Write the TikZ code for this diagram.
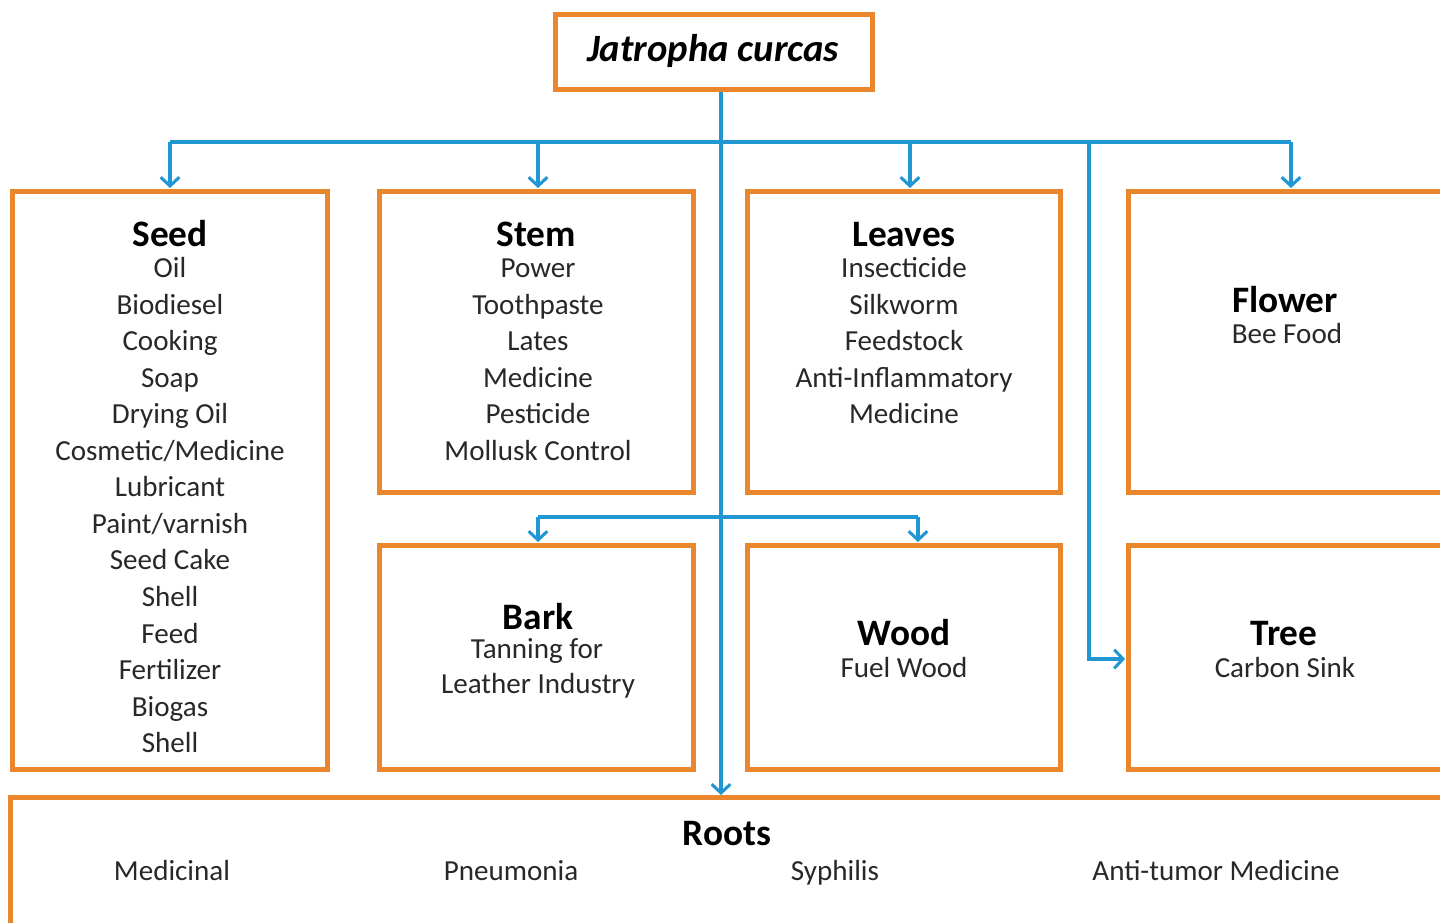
\documentclass[tikz,border=0pt]{standalone}
\usepackage{fontspec}
\setmainfont{Carlito}
\usetikzlibrary{arrows.meta,fit}
\definecolor{borange}{RGB}{234,134,44}
\definecolor{lblue}{RGB}{32,150,210}
\definecolor{itemgray}{RGB}{40,40,40}
\tikzset{
  box/.style={draw=borange, line width=3.75pt, inner sep=0pt, fill=white},
  conn/.style={draw=lblue, line width=2.3pt},
  arr/.style={conn, -{Straight Barb[length=6.5pt,width=14pt,line width=2.3pt]}},
  head/.style={anchor=base, font=\bfseries\fontsize{28}{32}\selectfont, text=black, inner sep=0pt},
  item/.style={anchor=base, font=\fontsize{21.8}{25}\selectfont, text=itemgray, inner sep=0pt},
}
\begin{document}
\begin{tikzpicture}[x=0.75pt,y=-0.75pt]
\useasboundingbox (0,0) rectangle (1440,923);
\clip (0,0) rectangle (1440,923);
% boxes
\node[box, fit={(555.5,14.5) (872.5,89.5)}] (title) {};
\node[box, fit={(12.5,191.5) (327.5,769.5)}] (seed) {};
\node[box, fit={(379.5,191.5) (693.5,492.5)}] (stem) {};
\node[box, fit={(747.5,191.5) (1060.5,492.5)}] (leaves) {};
\node[box, fit={(1128.5,191.5) (1470,492.5)}] (flower) {};
\node[box, fit={(379.5,545.5) (693.5,769.5)}] (bark) {};
\node[box, fit={(747.5,545.5) (1060.5,769.5)}] (wood) {};
\node[box, fit={(1128.5,545.5) (1470,769.5)}] (tree) {};
\node[box, fit={(10.5,797.5) (1470,950)}] (roots) {};
% connectors
\coordinate (top) at (721,92);
\coordinate (j) at (721,142);
\coordinate (jl) at (170,142);
\coordinate (jr) at (1291,142);
\coordinate (jt) at (1089,142);
\draw[conn] (jl) -- (jr);
\draw[arr] (top) -- (721,795);
\draw[arr] (jl) -- (170,188);
\draw[arr] (j -| 538,0) -- (538,188);
\draw[arr] (j -| 910,0) -- (910,188);
\draw[arr] (jr) -- (1291,188);
\draw[arr] (jt) -- (1089,659) -- (1125,659);
\draw[conn] (538,517) -- (918,517);
\draw[arr] (538,517) -- (538,542);
\draw[arr] (918,517) -- (918,542);
% title
\node[anchor=base, inner sep=0pt, font=\bfseries\itshape\fontsize{29}{32}\selectfont] (titletext) at (713,62) {Jatropha curcas};
% seed
\node[head] (seedH) at (170,247) {Seed};
\foreach \t [count=\i] in {Oil,Biodiesel,Cooking,Soap,Drying Oil,Cosmetic/Medicine,Lubricant,Paint/varnish,Seed Cake,Shell,Feed,Fertilizer,Biogas,Shell}
  \node[item] (seed\i) at (170,{278+36.5*(\i-1)}) {\t};
% stem
\node[head] (stemH) at (536,247) {Stem};
\foreach \t [count=\i] in {Power,Toothpaste,Lates,Medicine,Pesticide,Mollusk Control}
  \node[item] (stem\i) at (538,{278+36.5*(\i-1)}) {\t};
% leaves
\node[head] (leavesH) at (904,247) {Leaves};
\foreach \t [count=\i] in {Insecticide,Silkworm,Feedstock,Anti-Inflammatory,Medicine}
  \node[item] (leaves\i) at (904,{278+36.5*(\i-1)}) {\t};
% flower
\node[head] (flowerH) at (1285,313) {Flower};
\node[item] (flower1) at (1287,344) {Bee Food};
% bark
\node[head] (barkH) at (538,629) {Bark};
\node[item] (bark1) at (537,658) {Tanning for};
\node[item] (bark2) at (538,693) {Leather Industry};
% wood
\node[head] (woodH) at (904,646) {Wood};
\node[item] (wood1) at (904,677) {Fuel Wood};
% tree
\node[head] (treeH) at (1284,646) {Tree};
\node[item] (tree1) at (1285,677) {Carbon Sink};
% roots
\node[head] (rootsH) at (727,845) {Roots};
\node[item] (roots1) at (172,880) {Medicinal};
\node[item] (roots2) at (511,880) {Pneumonia};
\node[item] (roots3) at (835,880) {Syphilis};
\node[item] (roots4) at (1216,880) {Anti-tumor Medicine};
\end{tikzpicture}
\end{document}
